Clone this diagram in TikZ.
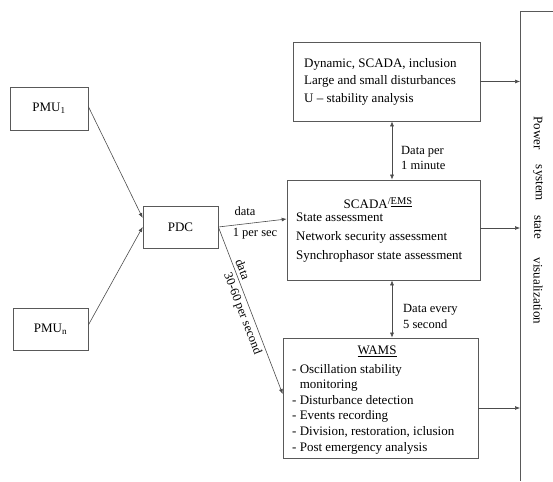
\documentclass[tikz,border=0pt]{standalone}
\usepackage{fontspec}
\setmainfont{Liberation Serif}
\usetikzlibrary{arrows.meta,calc}
\begin{document}
\begin{tikzpicture}[x=1pt,y=-1pt,
  box/.style={draw=black!65, line width=0.7pt, inner sep=0, rectangle, font=\fontsize{13}{15}\selectfont},
  conn/.style={draw=black!70, line width=0.6pt, -{Latex[length=5pt,width=4pt]}},
  dconn/.style={draw=black!70, line width=0.6pt, {Latex[length=5pt,width=4pt]}-{Latex[length=5pt,width=4pt]}},
  txt/.style={inner sep=0, font=\fontsize{13}{17.5}\selectfont, align=left},
  lbl/.style={inner sep=0, font=\fontsize{12.5}{15.5}\selectfont, align=left},
  vtxt/.style={inner sep=0, font=\fontsize{13}{15}\selectfont, rotate=-90}]
\useasboundingbox (0,0) rectangle (553,481);
% boxes
\node[box, minimum width=78, minimum height=43] (pmu1) at (49,108.5) {PMU\textsubscript{1}};
\node[box, minimum width=75, minimum height=42] (pmun) at (50.5,329) {PMU\textsubscript{n}};
\node[box, minimum width=75, minimum height=42] (pdc) at (180.5,227) {PDC};
\node[box, minimum width=187, minimum height=79] (top) at (386.5,81.5) {};
\node[box, minimum width=193, minimum height=100] (scada) at (383.5,230) {};
\node[box, minimum width=195, minimum height=120] (wams) at (380.5,398) {};
% box texts
\node[txt, anchor=west] (toptxt) at (304,81.5) {Dynamic, SCADA, inclusion\\Large and small disturbances\\U -- stability analysis};
\node[inner sep=0, font=\fontsize{13}{15}\selectfont] (scadattl) at (378,203) {SCADA\raisebox{0.55ex}{\fontsize{10.5}{12}\selectfont/\underline{EMS}}};
\node[txt, anchor=west, font=\fontsize{13}{19}\selectfont] (scadatxt) at (296,238) {State assessment\\Network security assessment\\Synchrophasor state assessment};
\node[inner sep=0, font=\fontsize{13}{15}\selectfont] (wamsttl) at (377,351) {\underline{WAMS}};
\node[txt, anchor=west, font=\fontsize{13}{15.6}\selectfont] (wamstxt) at (292,409) {- Oscillation stability\\\phantom{- }monitoring\\- Disturbance detection\\- Events recording\\- Division, restoration, iclusion\\- Post emergency analysis};
% visualization column
\coordinate (vl) at (520,0);
\coordinate (vtop) at (520,11);
\coordinate (vtr) at (553,11);
\coordinate (vbot) at (520,481);
\draw[draw=black!65, line width=0.7pt] (vtr) -- (vtop) -- (vbot);
\node[vtxt] (w1) at (538,133) {Power};
\node[vtxt] (w2) at (538,183) {system};
\node[vtxt] (w3) at (538,227) {state};
\node[vtxt] (w4) at (538,291) {visualization};
% connectors
\draw[conn] ($(pmu1.east)+(0,-2)$) -- ($(pdc.west)+(0,-9)$);
\draw[conn] ($(pmun.east)+(0,-4)$) -- ($(pdc.west)+(0,0)$);
\draw[conn] (pdc.east) -- ($(scada.west)+(0,-11)$);
\node[lbl] (l1a) at (245,211) {data};
\node[lbl] (l1b) at (255,234) {1 per sec};
\draw[conn] (pdc.east) -- node[lbl, sloped, above=3pt, pos=0.27] (l2a) {data} node[lbl, sloped, below=3pt, pos=0.5] (l2b) {30-60 per second} ($(wams.west)+(0,-4)$);
\coordinate (ax) at (392,0);
\draw[dconn] (top.south -| ax) -- (scada.north -| ax);
\node[lbl, anchor=west] (l3) at (401,158) {Data per\\1 minute};
\draw[dconn] (scada.south -| ax) -- (wams.north -| ax);
\node[lbl, anchor=west] (l4) at (403,316.5) {Data every\\5 second};
\draw[conn] (top.east) -- (top.east -| vl);
\draw[conn] ($(scada.east)+(0,-2)$) -- ($(scada.east -| vl)+(0,-2)$);
\draw[conn] ($(wams.east)+(0,10)$) -- ($(wams.east -| vl)+(0,10)$);
\end{tikzpicture}
\end{document}
